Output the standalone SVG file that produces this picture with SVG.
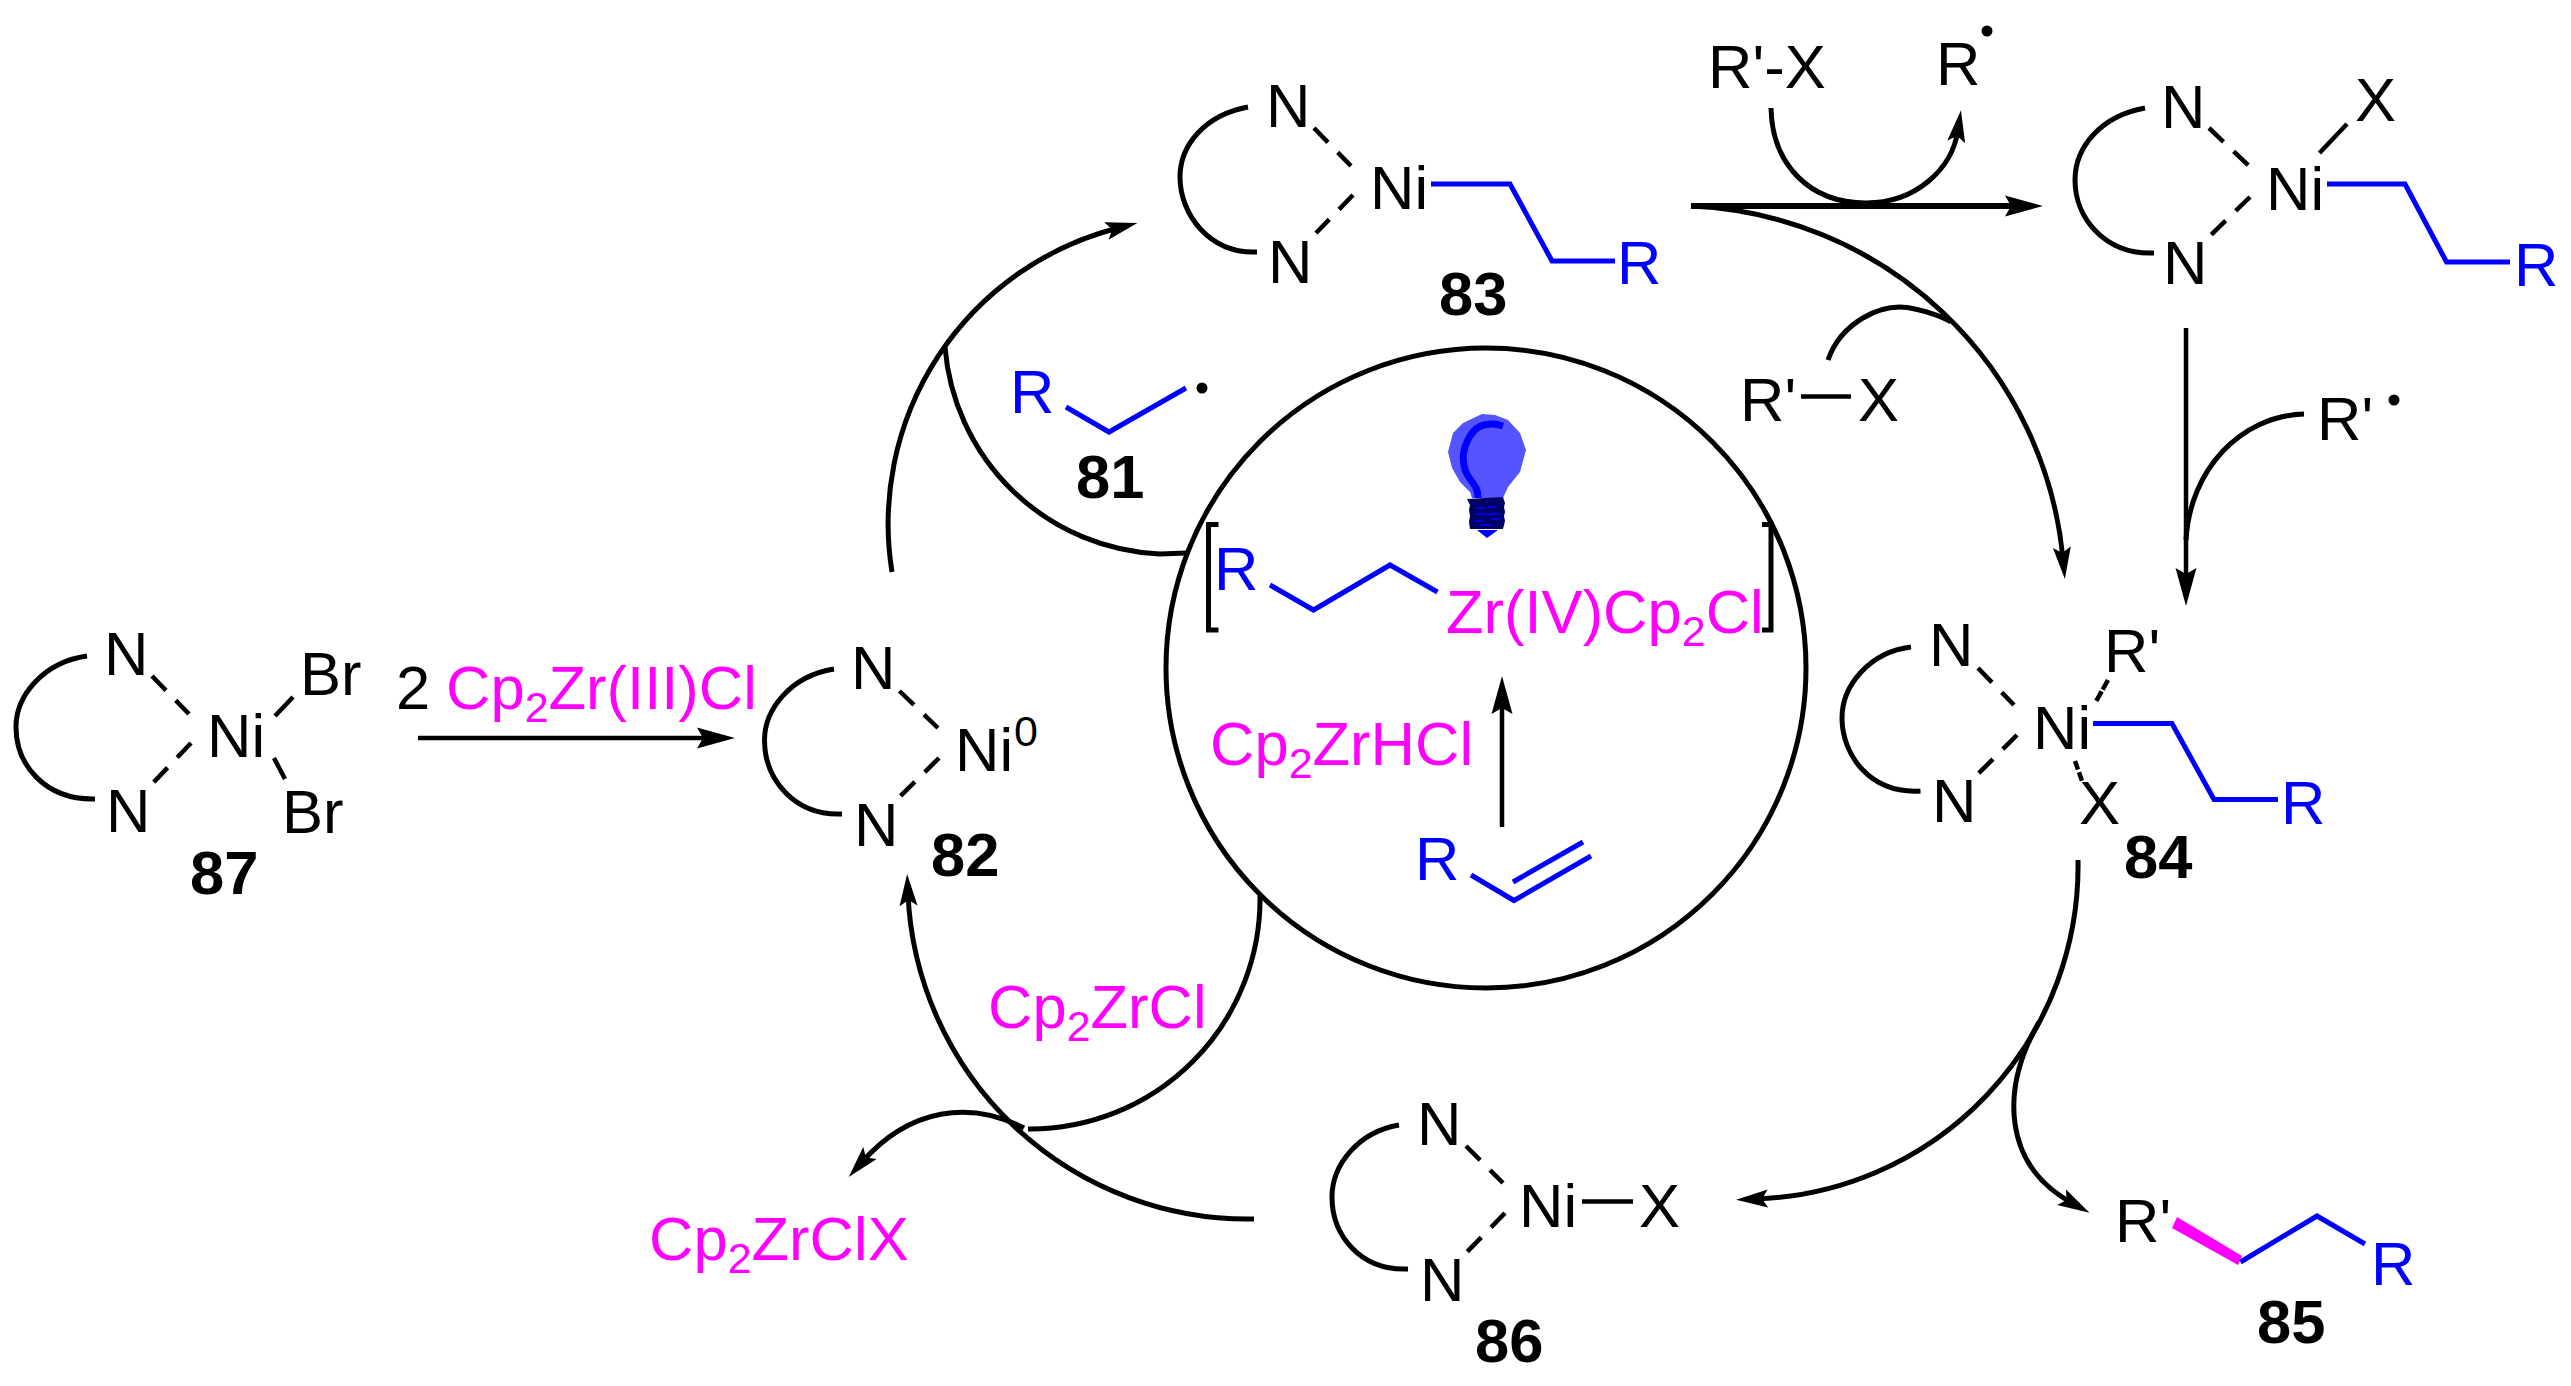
<svg xmlns="http://www.w3.org/2000/svg" width="2571" height="1386" viewBox="0 0 2571 1386">
<style>
text{font-family:"Liberation Sans",Arial,sans-serif;font-size:61.500px;fill:#000}
.b{font-weight:bold}
.m{fill:#f0f}
.u{fill:#00f}
.s{font-size:43px}
.p{font-size:43px}
.k{fill:none;stroke:#000;stroke-width:4.5}
.c{fill:none;stroke:#000;stroke-width:5}
.d{fill:none;stroke:#000;stroke-width:4.5;stroke-dasharray:20 14}
.bl{fill:none;stroke:#00f;stroke-width:5;stroke-linejoin:miter}
.a{marker-end:url(#h)}
.A{marker-end:url(#H)}
</style>
<defs>
<marker id="h" markerUnits="userSpaceOnUse" markerWidth="34" markerHeight="20" viewBox="0 0 34 20" refX="12" refY="10" orient="auto"><path d="M32 10L0 1L6 10L0 19Z" fill="#000"/></marker>
<marker id="H" markerUnits="userSpaceOnUse" markerWidth="40" markerHeight="24" viewBox="0 0 40 24" refX="18" refY="12" orient="auto"><path d="M38 12L0 1.500L6 12L0 22.500Z" fill="#000"/></marker>
</defs>
<rect width="2571" height="1386" fill="#fff"/>
<g id="connectors">
<path class="c" style="stroke-width:4.700" marker-end="url(#H)" d="M418 738H715"/>
<path class="c a" d="M1254 1219A340 340 0 0 1 908 894"/>
<path class="c a" d="M892 572A305 305 0 0 1 1118 228"/>
<path class="c" d="M945 347A225 225 0 0 0 1160 554L1187 553"/>
<path class="c" d="M1260 896A230 230 0 0 1 1028 1129"/>
<path class="c a" d="M1024 1128C970 1100 910 1108 862 1162"/>
<path class="c" style="stroke-width:6" marker-end="url(#H)" d="M1691 206H2023"/>
<path class="c a" d="M1771 108C1772 165 1810 203 1866 203C1915 203 1952 170 1958 130"/>
<path class="c a" d="M1691 206A390 390 0 0 1 2063 559"/>
<path class="c" d="M1828 360C1840 325 1880 300 1915 309C1930 312 1945 318 1951 322"/>
<path class="k" marker-end="url(#H)" d="M2186 328V586"/>
<path class="c" d="M2304 414C2240 416 2190 470 2186 540"/>
<path class="c a" d="M2078 860A333 333 0 0 1 1756 1199"/>
<path class="c a" d="M2039 1022C2000 1090 2003 1165 2072 1203"/>
<path class="k" marker-end="url(#H)" d="M1502 827V696"/>
</g>
<g id="n87">
<path class="c" d="M87 656C44 662 16 695 16 727C16 765 45 800 95 799"/>
<path class="d" d="M152 676L189 714M191 743L153 783"/>
<path class="k" d="M293 697L275 716M274 758L285 779"/>
<text x="104" y="675">N</text><text x="106" y="832">N</text><text x="207" y="757">Ni</text><text x="300" y="695">Br</text><text x="282" y="833">Br</text>
<text class="b" x="190" y="894">87</text>
</g>
<g id="label-reagent">
<text x="396" y="709">2</text>
<text class="m" x="446" y="709">Cp<tspan class="s" dy="13">2</tspan><tspan dy="-13">Zr(III)Cl</tspan></text>
</g>
<g id="n82">
<path class="c" d="M834 669C790 676 764.500 710 764.500 740C764.500 780 795 816 842 814"/>
<path class="d" d="M899.500 691L938 728M939 758L899.500 797"/>
<text x="851" y="689">N</text><text x="854" y="846">N</text><text x="955" y="771">Ni</text><text class="p" x="1014" y="746">0</text>
<text class="b" x="931" y="876">82</text>
</g>
<g id="n81">
<text class="u" x="1010" y="413">R</text>
<path class="bl" d="M1066 407L1109 432L1186 388"/>
<circle cx="1202" cy="388" r="5.500"/>
<text class="b" x="1076" y="498">81</text>
</g>
<g id="n83">
<path class="c" d="M1248 107C1205 115 1180 145 1180 177C1180 215 1210 254 1257 252"/>
<path class="d" d="M1314 128L1351 166M1353 195L1316 233"/>
<text x="1266" y="127">N</text><text x="1268" y="283">N</text><text x="1370" y="209">Ni</text>
<path class="bl" d="M1431 184H1510L1552 261H1615"/>
<text class="u" x="1617" y="284">R</text>
<text class="b" x="1439" y="315">83</text>
</g>
<g id="r-x-top"><text x="1708" y="88">R'-X</text></g>
<g id="r-dot-top"><text x="1936" y="85">R</text><circle cx="1987" cy="31" r="5.500"/></g>
<g id="n-ni-x">
<path class="c" d="M2145 108C2100 116 2075 148 2075 180C2075 218 2105 255 2154 253"/>
<path class="d" d="M2209 128L2249 166M2250 197L2211 235"/>
<path class="k" d="M2347 124L2319.500 153"/>
<text x="2161" y="128">N</text><text x="2163" y="283.500">N</text><text x="2266" y="210">Ni</text><text x="2355" y="121">X</text>
<path class="bl" d="M2327 184H2405L2446.500 262H2510"/>
<text class="u" x="2514" y="286">R</text>
</g>
<g id="r-x-mid">
<text x="1740" y="421">R'</text>
<path class="k" d="M1801 396.500H1851"/>
<text x="1858" y="421">X</text>
</g>
<g id="r-dot-mid"><text x="2317" y="440">R'</text><circle cx="2394" cy="400" r="5.500"/></g>
<g id="n84">
<path class="c" d="M1911 647C1870 652 1842 685 1842 718C1842 755 1870 794 1920.500 791"/>
<path class="d" d="M1978 668L2014 705M2017 735L1978 774"/>
<path class="k" style="stroke-dasharray:11 2" d="M2108 680L2096 701.500"/>
<path class="k" style="stroke-dasharray:9 3" d="M2075 761L2082 781"/>
<text x="1929" y="666">N</text><text x="1932" y="822">N</text><text x="2033" y="748.500">Ni</text><text x="2104" y="672">R'</text><text x="2079" y="824">X</text>
<path class="bl" d="M2093 723.500H2172L2214 799.500H2278"/>
<text class="u" x="2281" y="824">R</text>
<text class="b" x="2124" y="878">84</text>
</g>
<g id="n85">
<text x="2115" y="1242">R'</text>
<path style="fill:#f0f" d="M2172 1228L2177 1217L2242 1256L2238 1265Z"/>
<path class="bl" d="M2240.500 1262L2317 1216L2365 1244"/>
<text class="u" x="2371" y="1285">R</text>
<text class="b" x="2257" y="1343">85</text>
</g>
<g id="n86">
<path class="c" d="M1399 1125C1358 1132 1332 1165 1332 1197C1332 1235 1360 1271 1408 1269"/>
<path class="d" d="M1466 1146L1503 1183M1505 1213L1467 1252"/>
<text x="1417" y="1145">N</text><text x="1420" y="1301">N</text><text x="1519" y="1227">Ni</text><text x="1639" y="1227">X</text>
<path class="k" d="M1582 1201.500H1633"/>
<text class="b" x="1475" y="1362">86</text>
</g>
<g id="zr-cl"><text class="m" x="988" y="1028">Cp<tspan class="s" dy="13">2</tspan><tspan dy="-13">ZrCl</tspan></text></g>
<g id="zr-clx"><text class="m" x="649" y="1260">Cp<tspan class="s" dy="13">2</tspan><tspan dy="-13">ZrClX</tspan></text></g>
<g id="photo-cycle">
<circle cx="1486" cy="668" r="320" fill="none" stroke="#000" stroke-width="5"/>
<g id="bulb">
<path fill="#55f" d="M1482 414L1463 423L1453 433L1448 452L1452 468L1460 482L1470 492L1472 498L1503 498L1508 487L1520 472L1526 450L1520 433L1508 420L1495 415Z"/>
<path fill="none" stroke="#00f" stroke-width="7" d="M1503 426C1490 422 1477 424 1470 436C1460 452 1462 468 1470 479C1476 487 1478 490 1478 498"/>
<path fill="#00f" d="M1477 530L1487 538L1498 530Z"/>
<path fill="#006" d="M1467 499L1503 497L1505 503L1504 507L1505 512L1504 516L1505 521L1503 529L1470 529L1469 522L1470 516L1469 510L1470 505Z"/>
<path fill="none" stroke="#00f" stroke-width="1.500" d="M1476 508H1486M1488 507H1496M1476 514H1500M1474 521H1484M1490 519H1502M1480 525H1492"/>
</g>
<path fill="none" stroke="#000" stroke-width="5" d="M1218.500 524.500H1208.500V630H1218.500M1762 524.500H1771V630H1762"/>
<text class="u" x="1214" y="590">R</text>
<path class="bl" d="M1270 585L1313.500 610L1390 565L1437.500 592"/>
<text class="m" x="1446" y="633">Zr(IV)Cp<tspan class="s" dy="13">2</tspan><tspan dy="-13">Cl</tspan></text>
<text class="m" x="1210" y="765">Cp<tspan class="s" dy="13">2</tspan><tspan dy="-13">ZrHCl</tspan></text>
<text class="u" x="1415" y="880">R</text>
<path class="bl" d="M1471 875L1514 900.500L1591 856M1513 882L1583 842"/>
</g>
</svg>
